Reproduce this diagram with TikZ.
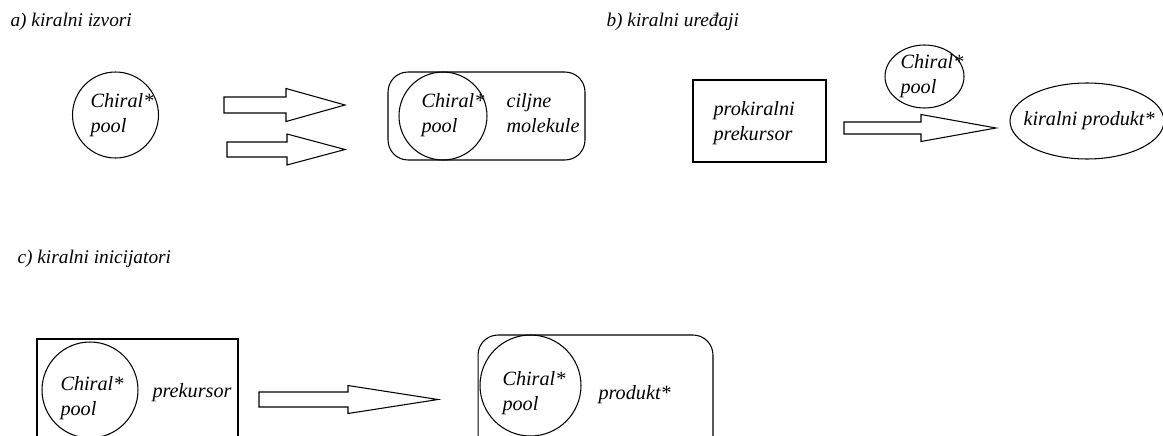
\documentclass[tikz,border=0pt]{standalone}
\usepackage{fontspec}
\setmainfont{Liberation Serif}
\usetikzlibrary{shapes.geometric,positioning,calc}

\tikzset{
	lbl/.style={anchor=base west,inner sep=0pt,align=left,font=\itshape\fontsize{11.5}{14.2}\selectfont},
	ttl/.style={lbl,font=\itshape\fontsize{11}{14.2}\selectfont},
	pool/.style={draw,circle,inner sep=0pt},
	oval/.style={draw,ellipse,inner sep=0pt},
	box/.style={draw,rectangle,inner sep=0pt},
	rbox/.style={draw,rectangle,rounded corners=0.4cm,inner sep=0pt},
	pics/fatarrow/.style n args={4}{code={
		\draw (0,-#3) -- (#1,-#3) -- (#1,-#4) -- (#2,0) -- (#1,#4) -- (#1,#3) -- (0,#3) -- cycle;
	}}
}

\begin{document}
\begin{tikzpicture}[x=0.02cm,y=-0.02cm,line width=0.6pt]
	\useasboundingbox (0,0) rectangle (1163,436);
	\clip (0,0) rectangle (1163,436);

	% a) kiralni izvori
	\node[ttl] (titleA) at (10,27) {a) kiralni izvori};
	\node[pool,minimum size=1.72cm] (poolA) at (115.5,115) {};
	\node[lbl] (poolAtxt) at (90,132) {Chiral*\\pool};
	\coordinate (arrA1) at (224,105);
	\coordinate (arrA2) at (227,149.5);
	\pic at (arrA1) {fatarrow={62}{121}{8}{16.5}};
	\pic at (arrA2) {fatarrow={60}{118}{7.5}{15.5}};
	\node[rbox,minimum width=3.94cm,minimum height=1.76cm] (boxA) at (486.5,116) {};
	\node[pool,minimum size=1.76cm] (poolA2) at (443,116) {};
	\node[lbl] (poolA2txt) at (421,132) {Chiral*\\pool};
	\node[lbl] (ciljne) at (506,132) {ciljne\\molekule};

	% b) kiralni uredjaji
	\node[ttl] (titleB) at (606,27) {b) kiralni uređaji};
	\node[box,minimum width=2.66cm,minimum height=1.64cm] (prok) at (759.5,121) {};
	\node[lbl] (proktxt) at (713,140) {prokiralni\\prekursor};
	\coordinate (arrB) at (844,128);
	\pic at (arrB) {fatarrow={77}{152}{6}{13.5}};
	\node[oval,minimum width=1.58cm,minimum height=1.26cm] (poolB) at (924.5,76.5) {};
	\node[lbl] (poolBtxt) at (900,93) {Chiral*\\pool};
	\node[oval,minimum width=3.08cm,minimum height=1.52cm] (prodB) at (1087,121) {};
	\node[lbl] (prodBtxt) at (1023,125) {kiralni produkt*};

	% c) kiralni inicijatori
	\node[ttl] (titleC) at (17,263) {c) kiralni inicijatori};
	\node[box,minimum width=4.02cm,minimum height=2.62cm] (prekC) at (137.5,404.5) {};
	\node[pool,minimum size=1.92cm] (poolC) at (90,390) {};
	\node[lbl] (poolCtxt) at (60,415) {Chiral*\\pool};
	\node[lbl] (prekCtxt) at (152,397) {prekursor};
	\coordinate (arrC) at (259,399.5);
	\pic at (arrC) {fatarrow={89}{179}{7.5}{14}};
	\node[rbox,minimum width=4.7cm,minimum height=2.6cm] (boxC) at (595.5,400) {};
	\node[pool,minimum size=2.02cm] (poolC2) at (530.5,385.5) {};
	\node[lbl] (poolC2txt) at (502,410) {Chiral*\\pool};
	\node[lbl] (prodC) at (598,399) {produkt*};
\end{tikzpicture}
\end{document}
